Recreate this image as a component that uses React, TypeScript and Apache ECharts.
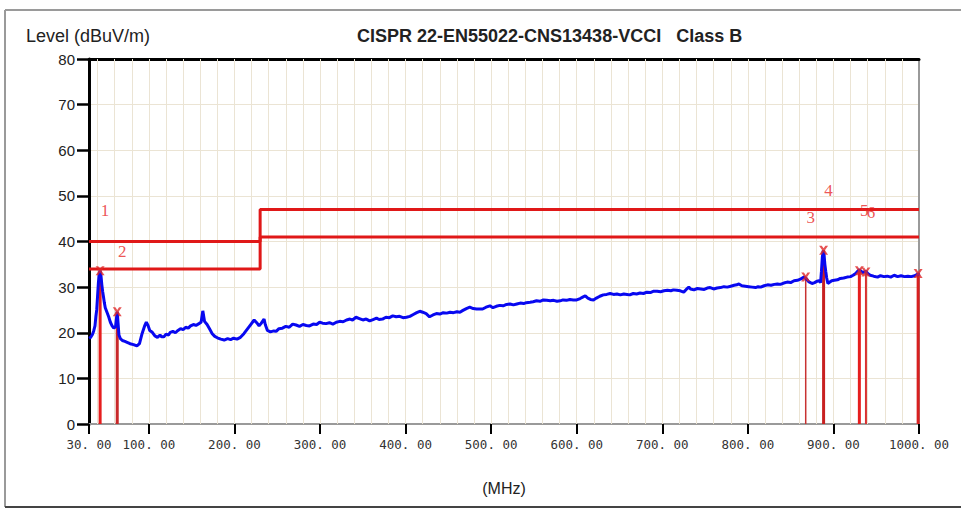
import React, { useEffect, useRef } from "react";
import * as echarts from "echarts";

const xTickValues = [30, 100, 200, 300, 400, 500, 600, 700, 800, 900, 1000];
const xTickLabels = ["30. 00", "100. 00", "200. 00", "300. 00", "400. 00", "500. 00", "600. 00", "700. 00", "800. 00", "900. 00", "1000. 00"];
const gridFreqs = [40, 60, 80, 100, 120, 140, 160, 180, 200, 220, 240, 260, 280, 300, 320, 340, 360, 380, 400, 420, 440, 460, 480, 500, 520, 540, 560, 580, 600, 620, 640, 660, 680, 700, 720, 740, 760, 780, 800, 820, 840, 860, 880, 900, 920, 940, 960, 980];

const limitUpper = [[30, 40], [230, 40], [230, 47], [1000, 47]];
const limitLower = [[30, 34], [230, 34], [230, 41], [1000, 41]];

const traceFreq = [30, 32, 34, 35.5, 37, 38, 39, 40, 41, 42, 43, 44, 45, 46, 47, 48, 49, 51, 53, 55, 57, 59, 61, 62, 63, 64, 65, 66.7, 69, 72, 74.5, 78, 82, 86, 89, 92, 95, 97, 99, 101, 104, 107, 110, 113, 115, 117.5, 120, 123, 125, 128, 131, 134, 137, 140, 143, 146, 148.7, 152, 155, 158.5, 161, 163, 165, 168, 171, 174, 177, 180, 184, 188, 192, 195.5, 199, 203, 207, 211, 215, 219, 223, 226, 228.8, 231, 234.6, 236, 238.5, 242, 246, 248.7, 252, 256, 260, 264, 268, 272, 276, 280, 284, 287.7, 292, 296, 299.5, 303, 307, 311, 315, 319, 323, 327, 331, 335, 338, 342, 346, 350, 354, 358, 362, 366, 369, 373, 377, 381, 385, 389, 393, 397, 401, 405, 409, 413, 416.6, 420, 424, 428, 432, 436, 440, 444, 448, 452, 456, 460, 463.5, 467, 471, 475, 479, 483, 487, 490, 494, 498.6, 502, 506, 510, 514, 518, 522, 526, 530, 534, 538, 541, 545.5, 549, 553, 557, 561, 565, 569, 573, 577, 580.6, 584, 588, 592, 596, 600, 604, 607, 610, 613, 616, 619.6, 623, 627, 631, 635, 639, 643, 647, 651, 655, 658.7, 662, 666, 670, 674, 678, 682, 686, 690, 694, 698, 702, 706, 710, 713, 717, 721, 725, 728, 731, 733, 737, 741, 745, 749, 752.5, 756, 760, 764, 768, 772, 776, 780, 784, 787, 789.5, 793, 797, 801, 805, 809, 812, 815, 819, 823, 827, 831, 834.5, 838, 842, 846, 850, 854, 858, 862, 865.6, 868, 871, 875, 878, 881, 883, 885, 886, 887, 888, 889, 890, 891, 892, 893.5, 895, 898, 901, 904.7, 908, 912, 916, 920, 923, 926, 928, 930, 932, 934, 936, 938, 940, 943, 947, 951.6, 955, 959, 963, 967, 971, 975, 979, 983, 987, 991, 995, 998, 999, 1000];
const traceLevel = [18.8, 19.0, 19.6, 20.4, 21.5, 23.5, 25, 28, 31, 33, 33.6, 32.5, 30.5, 29, 27.8, 26.5, 25.5, 24.5, 23.5, 22.3, 21.5, 21.0, 21.3, 23, 24.6, 22, 19.5, 18.7, 18.3, 18.1, 17.9, 17.6, 17.4, 17.1, 17.6, 19.8, 21.5, 22.3, 21.6, 20.5, 20.1, 19.3, 19.0, 19.5, 19.1, 19.1, 19.7, 19.5, 20.1, 20.3, 20.0, 20.5, 20.9, 20.7, 21.2, 21.0, 21.5, 21.8, 21.6, 22.0, 22.3, 24.8, 22.5, 21.8, 20.8, 19.8, 19.2, 18.9, 18.6, 18.4, 18.7, 18.5, 18.8, 18.6, 19.0, 19.8, 20.8, 21.8, 22.8, 22.2, 21.5, 22.0, 23.0, 21.8, 20.5, 20.2, 20.4, 20.3, 20.9, 21.0, 21.4, 21.2, 21.9, 21.7, 21.4, 21.8, 21.6, 21.5, 21.9, 21.8, 22.3, 22.1, 22.0, 22.2, 21.9, 22.3, 22.5, 22.4, 22.8, 23.0, 22.8, 23.4, 23.1, 22.8, 23.0, 22.6, 22.9, 23.2, 22.9, 23.0, 23.4, 23.3, 23.7, 23.5, 23.6, 23.3, 23.4, 23.6, 24.0, 24.4, 24.7, 24.5, 24.2, 23.5, 23.9, 24.2, 24.1, 24.4, 24.3, 24.5, 24.4, 24.6, 24.5, 24.9, 25.3, 25.6, 25.3, 25.2, 25.2, 25.2, 25.6, 25.9, 25.5, 25.8, 26.0, 25.9, 26.2, 26.3, 26.1, 26.3, 26.5, 26.4, 26.6, 26.7, 26.8, 27.0, 26.9, 27.2, 27.1, 27.0, 27.1, 26.9, 27.0, 27.2, 27.1, 27.3, 27.2, 27.2, 27.5, 27.8, 28.1, 27.6, 27.3, 27.2, 27.6, 28.0, 28.3, 28.4, 28.6, 28.4, 28.5, 28.3, 28.5, 28.4, 28.3, 28.6, 28.5, 28.7, 28.6, 28.9, 28.8, 29.1, 29.1, 29.0, 29.2, 29.3, 29.2, 29.4, 29.3, 29.2, 28.9, 29.5, 30.0, 29.6, 29.4, 29.7, 29.6, 29.5, 29.8, 29.9, 29.6, 29.8, 29.9, 30.1, 30.0, 30.2, 30.4, 30.5, 30.7, 30.3, 30.2, 30.1, 30.0, 29.9, 30.1, 30.0, 30.3, 30.5, 30.4, 30.6, 30.7, 30.6, 30.9, 31.1, 31.0, 31.4, 31.5, 31.8, 32.2, 31.9, 31.2, 30.8, 31.0, 31.3, 31.4, 31.0, 33.5, 36.5, 38.0, 37.2, 35.0, 33.5, 32.1, 30.8, 31.0, 31.4, 31.5, 31.6, 31.9, 32.0, 32.2, 32.3, 32.6, 33.0, 33.4, 33.8, 33.5, 33.2, 33.3, 33.5, 33.0, 32.6, 32.4, 32.2, 32.5, 32.3, 32.4, 32.2, 32.6, 32.3, 32.5, 32.3, 32.4, 32.3, 32.5, 32.8, 33.0, 32.5];

const markerNames = ["1", "2", "3", "4", "5", "6", ""];
const markerFreq = [43, 63, 867.6, 888.5, 930.3, 938, 999];
const markerLevel = [33.6, 24.6, 32.2, 38.1, 33.6, 33.3, 33.0];
const markerLineWidth = [3, 3, 1.5, 3, 3, 2, 3];
const markerLineColor = ["#e61e1e", "#c82828", "#c83232", "#c82020", "#e61e1e", "#d83030", "#d82020"];

const XMARK = "path://M0,0 L3,0 L5,3 L7,0 L10,0 L6.5,5 L10,10 L7,10 L5,7 L3,10 L0,10 L3.5,5 Z";

export default function App() {
  const ref = useRef<HTMLDivElement>(null);
  useEffect(() => {
    if (!ref.current) return;
    const chart = echarts.init(ref.current, null, { renderer: "svg" });
    const trace = traceFreq.map((f, i) => [f, traceLevel[i]]);
    const markerData = markerFreq.map((f, i) => [f, markerLevel[i]]);
    const markerLines = markerFreq.map((f, i) => ({
      type: "line",
      data: [[f, 0], [f, markerLevel[i]]],
      symbol: "none",
      silent: true,
      z: 3,
      lineStyle: { color: markerLineColor[i], width: markerLineWidth[i] },
    }));
    chart.setOption({
      animation: false,
      backgroundColor: "#ffffff",
      title: [
        { text: "Level (dBuV/m)", left: 21, top: 22, textStyle: { fontFamily: "Liberation Sans", fontSize: 18, fontWeight: "normal", color: "#222" } },
        { text: "CISPR 22-EN55022-CNS13438-VCCI   Class B", left: 352, top: 22, textStyle: { fontFamily: "Liberation Sans", fontSize: 18, fontWeight: "bold", color: "#222" } },
      ],
      graphic: [
        { type: "line", shape: { x1: 5, y1: 10, x2: 961, y2: 10 }, style: { stroke: "#9a9a9a", lineWidth: 2 } },
        { type: "line", shape: { x1: 5, y1: 10, x2: 5, y2: 507 }, style: { stroke: "#9a9a9a", lineWidth: 2 } },
        { type: "line", shape: { x1: 5, y1: 507, x2: 961, y2: 507 }, style: { stroke: "#444", lineWidth: 2 } },
      ],
      grid: { left: 89, top: 59, width: 830, height: 365 },
      xAxis: [
        {
          type: "value", min: 30, max: 1000, position: "bottom",
          axisLine: { show: true, onZero: false, lineStyle: { color: "#9a9a9a", width: 2 } },
          axisTick: { show: true, customValues: xTickValues, length: 10, lineStyle: { color: "#000", width: 2 } },
          axisLabel: {
            customValues: xTickValues, margin: 14, fontFamily: "DejaVu Sans Mono", fontSize: 12.5, color: "#333",
            formatter: (v: number) => { const k = xTickValues.indexOf(v); return k >= 0 ? xTickLabels[k] : ""; },
          },
          splitLine: { show: false },
          name: "(MHz)", nameLocation: "middle", nameGap: 56,
          nameTextStyle: { fontFamily: "Liberation Sans", fontSize: 16, color: "#222" },
        },
        {
          type: "value", min: 30, max: 1000, position: "top",
          axisLine: { show: true, onZero: false, lineStyle: { color: "#000", width: 3 } },
          axisTick: { show: false }, axisLabel: { show: false }, splitLine: { show: false },
        },
      ],
      yAxis: [
        {
          type: "value", min: 0, max: 80, interval: 10, position: "left",
          axisLine: { show: true, onZero: false, lineStyle: { color: "#000", width: 3 } },
          axisTick: { show: true, length: 12, lineStyle: { color: "#000", width: 2.5 } },
          axisLabel: { margin: 14, fontFamily: "Liberation Sans", fontSize: 15, color: "#222" },
          splitLine: { show: true, lineStyle: { color: "#ebe4d4", width: 1 } },
        },
        {
          type: "value", min: 0, max: 80, interval: 10, position: "right",
          axisLine: { show: true, onZero: false, lineStyle: { color: "#9a9a9a", width: 2 } },
          axisTick: { show: false }, axisLabel: { show: false }, splitLine: { show: false },
        },
      ],
      series: [
        {
          type: "line", name: "grid", data: [], silent: true, z: 1,
          markLine: {
            silent: true, z: 1, symbol: ["none", "none"], label: { show: false },
            lineStyle: { color: "#ebe4d4", width: 1, type: "solid" },
            emphasis: { disabled: true },
            data: gridFreqs.map((f) => ({ xAxis: f })),
          },
        },
        { type: "line", name: "limit1", data: limitUpper, symbol: "none", silent: true, z: 3, lineStyle: { color: "#e01818", width: 3 } },
        { type: "line", name: "limit2", data: limitLower, symbol: "none", silent: true, z: 3, lineStyle: { color: "#e01818", width: 3 } },
        ...markerLines,
        { type: "line", name: "trace", data: trace, symbol: "none", silent: true, z: 4, lineStyle: { color: "#0808f0", width: 3 } },
        {
          type: "scatter", name: "markers", data: markerData, symbol: XMARK, symbolSize: 9, silent: true, z: 6,
          itemStyle: { color: "#e02828" },
          label: {
            show: true, position: "inside", offset: [5, -60],
            formatter: (p: any) => markerNames[p.dataIndex],
            fontFamily: "Liberation Serif", fontSize: 17, color: "#e82828",
          },
        },
      ],
    });
    return () => chart.dispose();
  }, []);
  return <div ref={ref} style={{ position: "fixed", left: 0, top: 0, width: 962, height: 509, background: "#fff" }} />;
}
